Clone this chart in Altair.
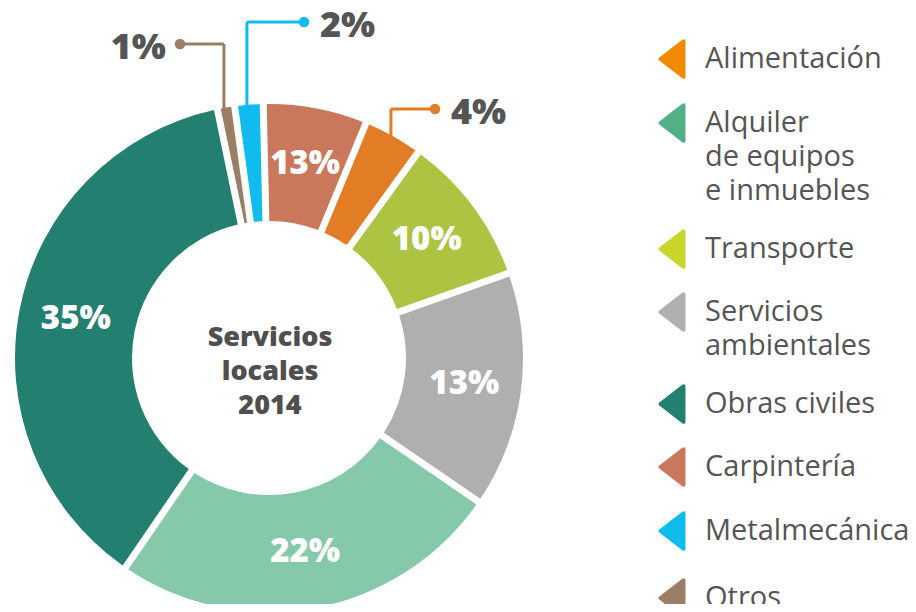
import math
import altair as alt
import pandas as pd
import numpy as np

# ---------------- data ----------------
# slices in clockwise order, starting just left of 12 o'clock
categories = ["Carpintería", "Alimentación", "Transporte", "Servicios ambientales",
              "Alquiler de equipos e inmuebles", "Obras civiles", "Otros", "Metalmecánica"]
# share of the ring each slice occupies in the picture (% of full circle)
drawn_share = [6.6, 3.75, 9.6, 15.0, 25.0, 37.2, 1.1, 1.8]
# printed percentage labels
labels = ["13%", "4%", "10%", "13%", "22%", "35%", "1%", "2%"]
slice_colors = ["#C9785B", "#E27C25", "#ADC443", "#AFAFAF",
                "#86C9AA", "#237F70", "#9B7E66", "#10BBEE"]

legend_names = ["Alimentación", "Alquiler\nde equipos\ne inmuebles", "Transporte",
                "Servicios\nambientales", "Obras civiles", "Carpintería",
                "Metalmecánica", "Otros"]
legend_colors = ["#F08A00", "#52B088", "#C9D52B", "#B0B0B0",
                 "#237F70", "#C9785B", "#10BBEE", "#9B7E66"]

center_title = "Servicios\nlocales\n2014"

# ---------------- layout (style constants) ----------------
W, H = 900, 596
CX, CY = 261, 350
R_OUT, R_IN = 254, 137
START = math.radians(-1.3)
LABEL_R = 197
TXT = "#555555"
FONT = "Open Sans"

# leader-line layout for the small slices: elbow height, dot x, label side
leader_layout = {
    "Alimentación": (101, 427, "right"),
    "Metalmecánica": (14, 296, "right"),
    "Otros": (36, 172, "left"),
}
legend_first_y = [51, 115, 241, 304, 396, 459, 523, 590]
LEG_X_TRI, LEG_X_TXT, LEG_LH = 664, 697, 34

# ---------------- tables ----------------
total = sum(drawn_share)
df = pd.DataFrame({
    "cat": categories,
    "share": drawn_share,
    "label": labels,
    "order": list(range(len(categories))),
})
df["inner"] = [l if s > 5 else "" for l, s in zip(labels, drawn_share)]

cum = np.cumsum([0] + drawn_share)
mid = [START + 2 * math.pi * (cum[i] + drawn_share[i] / 2) / total for i in range(len(categories))]

vert_rows, horiz_rows, dot_rows, ext_rows = [], [], [], []
for i, c in enumerate(categories):
    if c not in leader_layout:
        continue
    ey, dx, side = leader_layout[c]
    ax = CX + R_OUT * math.sin(mid[i]) - 2
    ay = CY - R_OUT * math.cos(mid[i]) + 2
    vert_rows.append({"x": ax, "y": ay, "y2": ey, "cat": c})
    horiz_rows.append({"x": ax, "x2": dx, "y": ey, "cat": c})
    dot_rows.append({"x": dx, "y": ey, "cat": c})
    ext_rows.append({"x": dx + (16 if side == "right" else -14), "y": ey + 4,
                     "label": labels[i], "side": side})

vert_df = pd.DataFrame(vert_rows)
horiz_df = pd.DataFrame(horiz_rows)
dot_df = pd.DataFrame(dot_rows)
ext_df = pd.DataFrame(ext_rows)

leg_tri = pd.DataFrame({"name": legend_names, "col": legend_colors,
                        "x": [LEG_X_TRI] * len(legend_names), "y": legend_first_y})
leg_txt_rows = []
for name, y0 in zip(legend_names, legend_first_y):
    for j, line in enumerate(name.split("\n")):
        leg_txt_rows.append({"x": LEG_X_TXT, "y": y0 + j * LEG_LH, "t": line})
leg_txt = pd.DataFrame(leg_txt_rows)

# ---------------- chart ----------------
color_scale = alt.Scale(domain=categories, range=slice_colors)
theta_scale = alt.Scale(domain=[0, total], range=[START, START + 2 * math.pi])

base = alt.Chart(df).encode(
    theta=alt.Theta("share:Q", stack=True, scale=theta_scale),
    order=alt.Order("order:Q"),
    x=alt.value(CX),
    y=alt.value(CY),
)

arcs = base.mark_arc(radius=R_OUT, radius2=R_IN, padAngle=0.024).encode(
    color=alt.Color("cat:N", scale=color_scale, legend=None)
)

inner_text = base.mark_text(radius=LABEL_R, font=FONT, fontSize=33, fontWeight=800,
                            color="white", align="center", baseline="middle").encode(
    text="inner:N"
)

px = lambda f: alt.X(f, scale=None, axis=None)
py = lambda f: alt.Y(f, scale=None, axis=None)

lcol = alt.Color("cat:N", scale=color_scale, legend=None)

vlines = alt.Chart(vert_df).mark_rule(strokeWidth=3).encode(
    x=px("x:Q"), y=py("y:Q"), y2="y2:Q", color=lcol)
hlines = alt.Chart(horiz_df).mark_rule(strokeWidth=3).encode(
    x=px("x:Q"), x2="x2:Q", y=py("y:Q"), color=lcol)
dots = alt.Chart(dot_df).mark_point(filled=True, size=110, opacity=1).encode(
    x=px("x:Q"), y=py("y:Q"), color=lcol)

ext_right = alt.Chart(ext_df).transform_filter("datum.side == 'right'").mark_text(
    font=FONT, fontSize=36, fontWeight=800, color=TXT, align="left", baseline="middle"
).encode(x=px("x:Q"), y=py("y:Q"), text="label:N")
ext_left = alt.Chart(ext_df).transform_filter("datum.side == 'left'").mark_text(
    font=FONT, fontSize=36, fontWeight=800, color=TXT, align="right", baseline="middle"
).encode(x=px("x:Q"), y=py("y:Q"), text="label:N")

center = alt.Chart(pd.DataFrame({"t": [center_title]})).mark_text(
    font=FONT, fontSize=27, fontWeight=800, color="#4F4F4F", align="center",
    baseline="middle", lineBreak="\n", lineHeight=34
).encode(x=alt.value(CX + 1), y=alt.value(CY - 20), text="t:N")

tri_shape = "M 0.65 -1 L -0.65 0 L 0.65 1 Z"
leg_marks = alt.Chart(leg_tri).mark_point(
    shape=tri_shape, filled=True, size=1250, opacity=1, strokeWidth=4, strokeJoin="round"
).encode(
    x=px("x:Q"), y=py("y:Q"),
    fill=alt.Fill("col:N", scale=None), stroke=alt.Stroke("col:N", scale=None)
)
leg_text = alt.Chart(leg_txt).mark_text(
    font=FONT, fontSize=29, color=TXT, align="left", baseline="middle"
).encode(x=px("x:Q"), y=py("y:Q"), text="t:N")

chart = alt.layer(
    arcs, inner_text, vlines, hlines, dots, ext_right, ext_left, center, leg_marks, leg_text
).properties(
    width=W, height=H, padding=0, autosize=alt.AutoSizeParams(type="none")
).configure_view(stroke=None)

chart.save("out.html", embed_options={"renderer": "svg", "actions": False})
